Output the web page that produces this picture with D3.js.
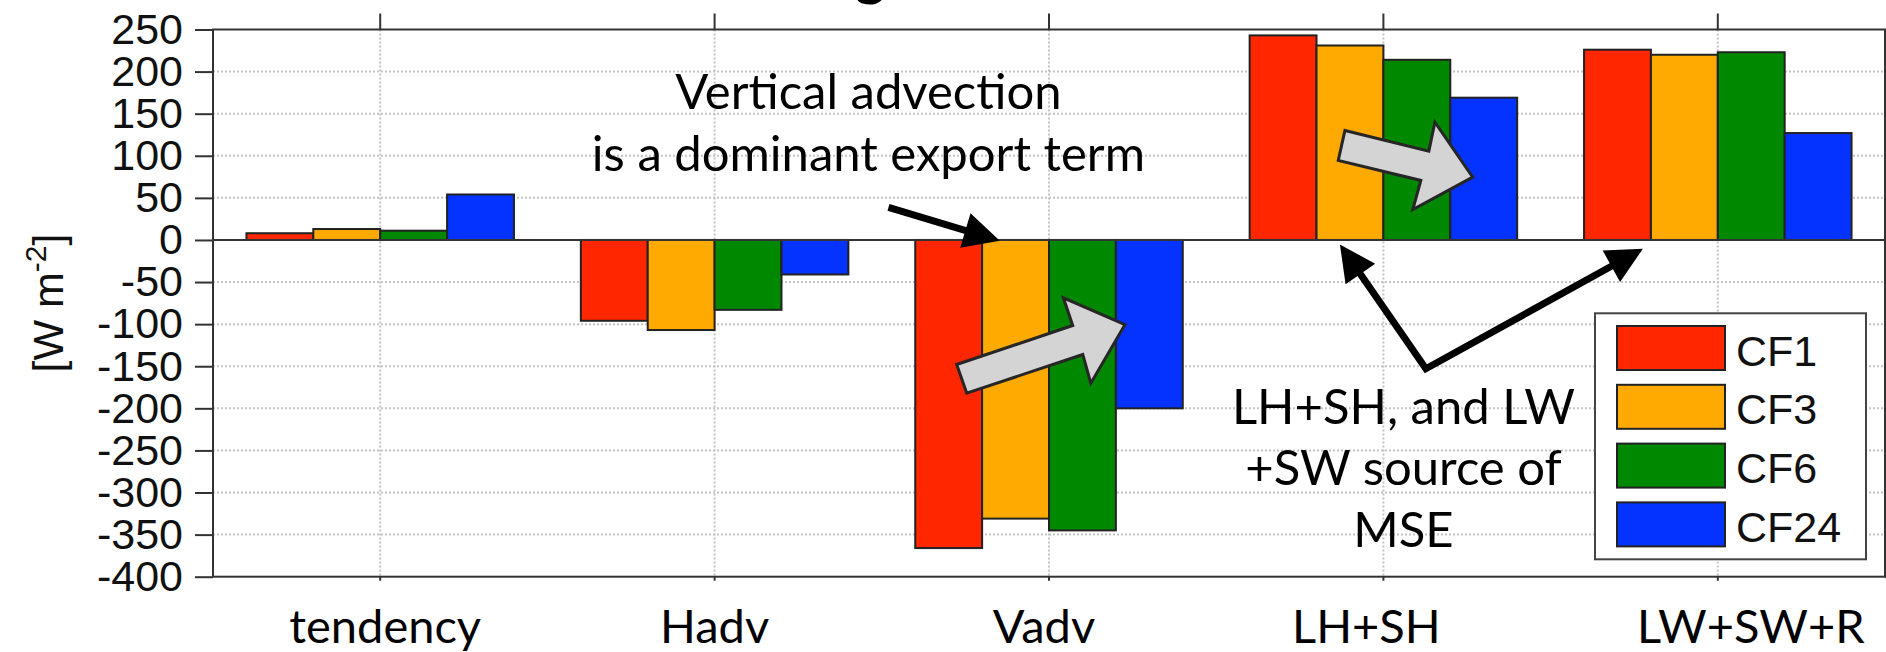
<!DOCTYPE html>
<html>
<head>
<meta charset="utf-8">
<script src="https://cdn.jsdelivr.net/npm/d3@7"></script>
<style>
  html, body { margin: 0; padding: 0; background: #fff; overflow: hidden; }
  svg { display: block; }
</style>
</head>
<body>
<svg id="chart" width="1886" height="652"></svg>
<script>
// MSE budget terms per configuration [W m-2]
const categories = ["tendency", "Hadv", "Vadv", "LH+SH", "LW+SW+R"];
const seriesNames = ["CF1", "CF3", "CF6", "CF24"];
const cf1  = [8,  -96, -366, 243, 226];
const cf3  = [13, -107, -331, 231, 220];
const cf6  = [11, -83, -345, 214, 223];
const cf24 = [54, -41, -200, 169, 127];
const yTicks = [250, 200, 150, 100, 50, 0, -50, -100, -150, -200, -250, -300, -350, -400];
const titleText = "MSE budget";

const palette = ["#ff2600", "#ffaa00", "#008800", "#0433ff"];
const tickFont = "'Liberation Sans', Arial, Helvetica, sans-serif";
const noteFont = "Lato, 'Open Sans', sans-serif";
// small horizontal nudges of the category labels, in px
const labelShift = [5, 0, -5, -17, 33];

const plot = { left: 213, right: 1885, top: 29.5, bottom: 576.7 };
const svg = d3.select("#chart");

const x = d3.scaleBand().domain(categories)
  .range([plot.left, plot.right]).paddingInner(0.2).paddingOuter(0.1);
const xs = d3.scaleBand().domain(seriesNames).range([0, x.bandwidth()]);
const y = d3.scaleLinear().domain([-400, 250]).range([plot.bottom, plot.top]);
const color = d3.scaleOrdinal().domain(seriesNames).range(palette);
// continuous position along the category axis (0 = centre of first group)
const pos = d3.scaleLinear().domain([-0.5, categories.length - 0.5]).range([plot.left, plot.right]);
const P = ([i, v]) => [pos(i), y(v)];

const values = [cf1, cf3, cf6, cf24];
const rows = seriesNames.flatMap((s, k) =>
  categories.map((c, j) => ({ series: s, cat: c, value: values[k][j] })));

// title (sits mostly above the visible area)
const title = svg.append("text")
  .attr("font-family", noteFont).attr("font-weight", 700).attr("font-size", 58)
  .attr("y", -6).attr("fill", "#000").text(titleText);
{
  const gi = titleText.indexOf("g");
  const ext = title.node().getExtentOfChar(gi);
  title.attr("x", 870 - (ext.x + ext.width / 2));
}

// dotted grid
const grid = svg.append("g")
  .attr("stroke", "#c4c4c4").attr("stroke-width", 2).attr("stroke-dasharray", "2 2");
grid.selectAll("line.h").data(yTicks.filter(t => t < 250 && t > -400)).join("line")
  .attr("class", "h")
  .attr("x1", plot.left).attr("x2", plot.right)
  .attr("y1", d => y(d)).attr("y2", d => y(d));
grid.selectAll("line.v").data(categories).join("line")
  .attr("class", "v")
  .attr("x1", d => x(d) + x.bandwidth() / 2).attr("x2", d => x(d) + x.bandwidth() / 2)
  .attr("y1", plot.top).attr("y2", plot.bottom);

// bars
svg.append("g").selectAll("rect").data(rows).join("rect")
  .attr("x", d => x(d.cat) + xs(d.series))
  .attr("y", d => y(Math.max(0, d.value)))
  .attr("width", xs.bandwidth())
  .attr("height", d => Math.abs(y(d.value) - y(0)))
  .attr("fill", d => color(d.series))
  .attr("stroke", "#222").attr("stroke-width", 2);

// zero baseline
svg.append("line")
  .attr("x1", plot.left).attr("x2", plot.right)
  .attr("y1", y(0)).attr("y2", y(0))
  .attr("stroke", "#333").attr("stroke-width", 2);

// axes
function styleTicks(g) {
  g.select(".domain").remove();
  g.selectAll(".tick line").attr("stroke", "#333").attr("stroke-width", 2);
}
const yAxis = svg.append("g").attr("transform", `translate(${plot.left},0)`)
  .call(d3.axisLeft(y).tickValues(yTicks).tickSize(18).tickPadding(12).tickFormat(d => String(d)))
  .call(styleTicks);
yAxis.selectAll("text").attr("font-family", tickFont).attr("font-size", 43).attr("fill", "#111");

svg.append("g").attr("transform", `translate(${plot.right},0)`)
  .call(d3.axisRight(y).tickValues(yTicks).tickSize(18).tickFormat(() => ""))
  .call(styleTicks);

svg.append("g").attr("transform", `translate(0,${plot.top})`)
  .call(d3.axisTop(x).tickSize(16).tickFormat(() => ""))
  .call(styleTicks);

const xAxis = svg.append("g").attr("transform", `translate(0,${plot.bottom})`)
  .call(d3.axisBottom(x).tickSize(4))
  .call(styleTicks);
xAxis.selectAll("text")
  .attr("x", (d, i) => labelShift[i])
  .attr("y", 66.6).attr("dy", 0)
  .attr("font-family", noteFont).attr("font-size", 47).attr("fill", "#000");

// frame
svg.append("rect")
  .attr("x", plot.left).attr("y", plot.top)
  .attr("width", plot.right - plot.left).attr("height", plot.bottom - plot.top)
  .attr("fill", "none").attr("stroke", "#333").attr("stroke-width", 2);

// y label
const ylab = svg.append("text")
  .attr("transform", `translate(63,${(plot.top + plot.bottom) / 2}) rotate(-90)`)
  .attr("text-anchor", "middle")
  .attr("font-family", tickFont).attr("font-size", 43).attr("fill", "#111");
ylab.append("tspan").text("[W m");
ylab.append("tspan").attr("dy", -17).attr("font-size", 30).text("-2");
ylab.append("tspan").attr("dy", 17).text("]");

// block arrows showing the change from CF1 to CF24
const blockArrows = [
  [[1.724, -147.9], [2.071, -101.6], [2.043, -68.7], [2.227, -100.7], [2.125, -170.1], [2.101, -136.0], [1.754, -182.0]],
  [[2.885, 130.1], [3.136, 105.5], [3.154, 139.9], [3.267, 74.6], [3.088, 36.2], [3.112, 70.7], [2.865, 94.4]]
];
svg.append("g").selectAll("path").data(blockArrows).join("path")
  .attr("d", d => d3.line()(d.map(P)) + "Z")
  .attr("fill", "#d4d4d4").attr("stroke", "#262626").attr("stroke-width", 3)
  .attr("stroke-linejoin", "miter");

// black pointer arrows
const ann = svg.append("g");
function head(from, to, len = 36, halfW = 18) {
  const dx = to[0] - from[0], dy = to[1] - from[1], L = Math.hypot(dx, dy);
  const ux = dx / L, uy = dy / L;
  const bx = to[0] - ux * len, by = to[1] - uy * len;
  ann.append("path")
    .attr("d", `M${to[0]},${to[1]}L${bx - uy * halfW},${by + ux * halfW}L${bx + uy * halfW},${by - ux * halfW}Z`)
    .attr("fill", "#000");
  return [to[0] - ux * len * 0.6, to[1] - uy * len * 0.6];
}
{
  const tail = P([1.52, 38.6]), tip = P([1.853, -1]);
  const base = head(tail, tip);
  ann.append("path").attr("d", d3.line()([tail, base]))
    .attr("stroke", "#000").attr("stroke-width", 7).attr("fill", "none");
}
{
  const vertex = P([3.127, -153]), tipL = P([2.870, -5.3]), tipR = P([3.776, -10.5]);
  const bL = head(vertex, tipL), bR = head(vertex, tipR);
  ann.append("path").attr("d", d3.line()([bL, vertex, bR]))
    .attr("stroke", "#000").attr("stroke-width", 7).attr("fill", "none")
    .attr("stroke-linejoin", "miter").attr("stroke-miterlimit", 10);
}

// annotation text
const notes = [
  { at: [1.460, 155], lines: ["Vertical advection", "is a dominant export term"] },
  { at: [3.060, -218.3], lines: ["LH+SH, and LW", "+SW source of", "MSE"] }
];
notes.forEach(n => {
  const [px, py] = P(n.at);
  const t = svg.append("text")
    .attr("font-family", noteFont).attr("font-size", 49).attr("fill", "#000")
    .attr("text-anchor", "middle");
  n.lines.forEach((line, k) => {
    t.append("tspan").attr("x", px).attr("y", py + k * 61.5).text(line);
  });
});

// legend
const lg = svg.append("g");
lg.append("rect").attr("x", 1595).attr("y", 313.3).attr("width", 271).attr("height", 246)
  .attr("fill", "#fff").attr("stroke", "#444").attr("stroke-width", 2);
const items = lg.selectAll("g.item").data(seriesNames).join("g")
  .attr("class", "item")
  .attr("transform", (d, k) => `translate(1617,${326 + k * 58.8})`);
items.append("rect").attr("width", 108).attr("height", 44)
  .attr("fill", d => color(d)).attr("stroke", "#222").attr("stroke-width", 2);
items.append("text").attr("x", 119).attr("y", 39.5)
  .attr("font-family", tickFont).attr("font-size", 43).attr("fill", "#111")
  .text(d => d);
</script>
</body>
</html>
